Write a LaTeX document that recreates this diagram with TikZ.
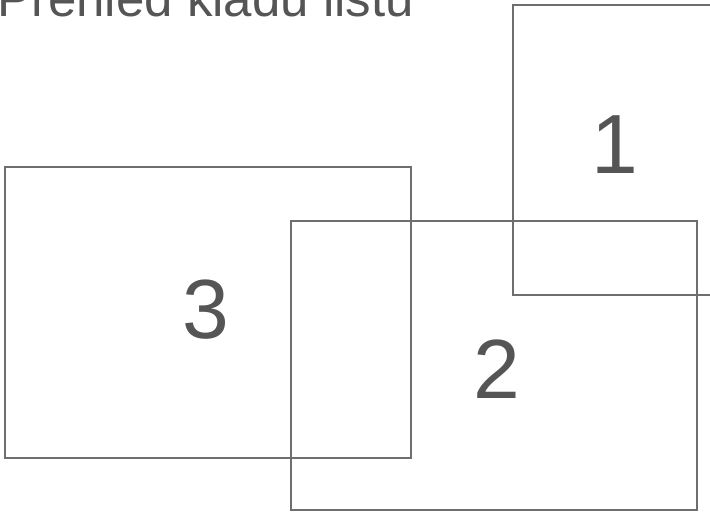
\documentclass[tikz,border=0pt]{standalone}
\usepackage{fontspec}
\setmainfont{Liberation Sans}
\definecolor{cLine}{RGB}{110,110,110}
\definecolor{cText}{RGB}{85,85,85}

\begin{document}
\begin{tikzpicture}[
  x=1pt, y=-1pt,
  sheet/.style = {draw=cLine, line width=1.2pt},
  num/.style   = {text=cText, inner sep=0pt, anchor=base,
                  font=\fontsize{84}{84}\selectfont},
  title/.style = {text=cText, inner sep=0pt, anchor=base west,
                  font=\fontsize{51}{51}\selectfont}
]
\useasboundingbox (0,0) rectangle (710,512);

% ------------------------------------------------------------- listy --
\draw[sheet] (513,5)   rectangle (730,295);
\draw[sheet] (291,221) rectangle (697,510);
\draw[sheet] (5,167)   rectangle (411,458);

% ------------------------------------------------------------ popisky --
\node[title] (nadpis) at (-3,16) {Přehled kladu listů};
\node[num]   (list1)  at (615,173) {1};
\node[num]   (list3)  at (206,338) {3};
\node[num]   (list2)  at (497,398) {2};

\end{tikzpicture}
\end{document}
